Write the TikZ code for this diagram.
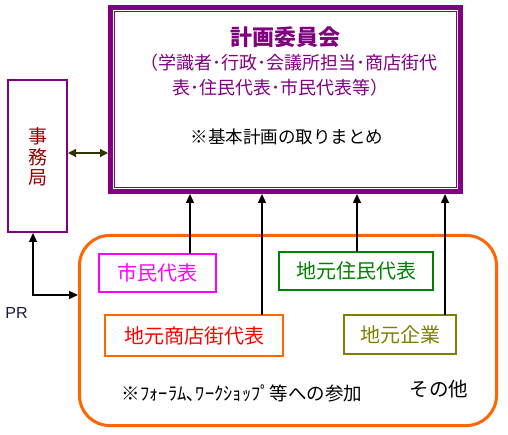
\documentclass[tikz,border=0pt]{standalone}
\usepackage{fontspec}
\setmainfont{Liberation Sans}
\newfontfamily\jp{Noto Sans CJK JP}
\usetikzlibrary{arrows.meta}
\definecolor{vio}{HTML}{800080}
\definecolor{org}{HTML}{FF6600}
\definecolor{mag}{HTML}{FF00FF}
\definecolor{grn}{HTML}{008000}
\definecolor{olv}{HTML}{808000}
\definecolor{dred}{HTML}{990000}
\definecolor{dolv}{HTML}{333300}
\definecolor{navy}{HTML}{1A1A40}
\begin{document}
\begin{tikzpicture}[x=1pt,y=-1pt,
  fs/.style={font=\jp\fontsize{#1}{#1}\selectfont},
  sbox/.style={draw=#1, line width=2pt, inner sep=0pt, outer sep=0pt},
  arr/.style={line width=1.4pt, -{Triangle[length=9pt,width=8pt]}},
  dbl/.style={line width=1.4pt, {Triangle[length=8pt,width=8pt]}-{Triangle[length=8pt,width=8pt]}}]
\useasboundingbox (0,0) rectangle (508,435);
% main committee box
\node (main) [draw=vio, line width=5pt, minimum width=350pt, minimum height=184pt, inner sep=0pt] at (285.5,99.5) {};
\draw[vio, line width=1.5pt] ([shift={(6.5,6.5)}]main.north west) rectangle ([shift={(-6.5,-6.5)}]main.south east);
\node (title) [text=vio, font=\jp\bfseries\fontsize{22}{22}\selectfont] at (285,37) {計画委員会};
\node (l2) [fs=18, text=vio] at (289,63) {（学識者･行政･会議所担当･商店街代};
\node (l3) [fs=18, text=vio] at (280,88) {表･住民代表･市民代表等）};
\node (kihon) [fs=17.5] at (287,137) {※基本計画の取りまとめ};
% secretariat
\node (jimu) [draw=vio, line width=2pt, minimum width=59pt, minimum height=152pt, inner sep=0pt] at (37.5,156) {};
\node (jimut) [text=dred, align=center, font=\jp\fontsize{19}{20.5}\selectfont] at (37.5,157) {事\\務\\局};
\draw[dbl, dolv] (jimu.east |- 0,153) -- (main.west |- 0,153);
% citizen area
\node (area) [draw=org, line width=3pt, rounded corners=30pt, minimum width=417pt, minimum height=190pt, inner sep=0pt] at (288,330.5) {};
\node (shimin) [sbox=mag, minimum width=117pt, minimum height=38pt, text=mag, fs=20] at (157.5,273) {市民代表};
\node (jumin) [sbox=grn, minimum width=154pt, minimum height=38pt, text=grn, fs=20] at (356,271) {地元住民代表};
\node (shoten) [sbox=org, minimum width=178pt, minimum height=41pt, text=red, fs=20] at (194,335.5) {地元商店街代表};
\node (kigyo) [sbox=olv, minimum width=112pt, minimum height=39pt, text=olv, fs=20] at (400,334.5) {地元企業};
\node (fora) [fs=18.5] at (242,393) {※ﾌｫｰﾗﾑ､ﾜｰｸｼｮｯﾌﾟ等への参加};
\node (sonota) [fs=19.5] at (439,389) {その他};
% arrows to committee
\draw[arr] (190,0 |- shimin.north) -- (190,0 |- main.south);
\draw[arr] (262,0 |- shoten.north) -- (262,0 |- main.south);
\draw[arr] (357,0 |- jumin.north) -- (357,0 |- main.south);
\draw[arr] (445,0 |- kigyo.north) -- (445,0 |- main.south);
% PR
\coordinate (prc) at (33,295);
\draw[line width=1.4pt, {Triangle[length=9pt,width=8pt]}-{Triangle[length=9pt,width=8pt]}] (jimu.south -| prc) -- (prc) -- (prc -| area.west);
\node (pr) [text=navy, font=\fontsize{16}{16}\selectfont] at (16.5,313) {PR};
\end{tikzpicture}
\end{document}
